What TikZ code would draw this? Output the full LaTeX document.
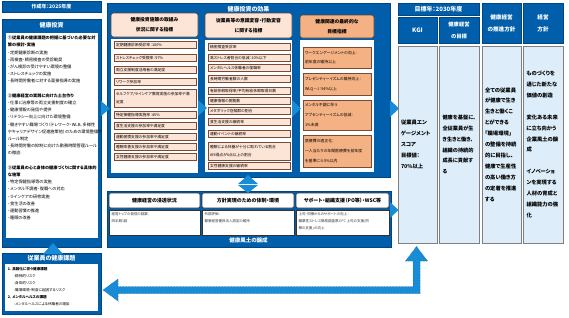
\documentclass[tikz,border=0pt]{standalone}
\usepackage{fontspec}
\setmainfont{Noto Sans CJK JP}[RawFeature=+palt]
\newcommand\fsz[2]{\fontsize{#1}{#2}\selectfont}
\definecolor{mblue}{RGB}{0,94,170}
\definecolor{ablue}{RGB}{25,140,215}
\definecolor{peach}{RGB}{252,228,214}
\definecolor{orng}{RGB}{244,177,131}
\definecolor{ltblue}{RGB}{221,238,250}
\definecolor{hdrline}{RGB}{90,70,60}
\definecolor{itemline}{RGB}{120,75,55}
\definecolor{colline}{RGB}{128,128,128}
\newcommand\mkbox[7][]{%
  \pgfmathsetmacro\mkW{#5-#3}%
  \pgfmathsetmacro\mkH{#6-#4}%
  \node[anchor=north west,minimum width=\mkW pt,minimum height=\mkH pt,#1] (#2) at (#3,#4) {#7};}
\newcommand\mkitem[7][]{%
  \pgfmathsetmacro\mkH{#6-#4}%
  \pgfmathsetmacro\mkT{#5-#3-4}%
  \node[anchor=north west,minimum height=\mkH pt,text width=\mkT pt,inner xsep=2pt,inner ysep=0pt,align=left,#1] (#2) at (#3,#4) {#7};}
\tikzset{
 bluebg/.style={fill=mblue, draw=mblue!75!black, line width=0.6pt},
 bluehead/.style={fill=mblue, draw=mblue!75!black, line width=0.6pt, text=white, font=\bfseries\fsz{6}{12}, align=center},
 titletxt/.style={text=white, font=\bfseries\fsz{6}{7}},
 whitebg/.style={fill=white},
 phead/.style={fill=peach, draw=hdrline, line width=0.6pt, rounded corners=2.5pt, font=\bfseries\fsz{4.8}{10}, align=center},
 ohead/.style={phead, fill=orng},
 pitem/.style={fill=peach, draw=itemline, line width=0.4pt, font=\fsz{3.8}{8.5}},
 oitem/.style={fill=orng, draw=itemline, line width=0.5pt, font=\fsz{3.9}{9.6}},
 chead/.style={fill=white, draw=black!80, line width=0.6pt, rounded corners=2pt, font=\bfseries\fsz{5}{6}},
 cbody/.style={fill=white, draw=black!80, line width=0.5pt},
 ctext/.style={anchor=north west, align=left, text=black!80, font=\fsz{3.5}{6.8}},
 ltcol/.style={fill=ltblue, draw=colline, line width=0.8pt},
 coltxt/.style={anchor=west, align=left, font=\bfseries\fsz{5.3}{10.9}},
 tri/.style={fill=ablue},
}
\begin{document}
\begin{tikzpicture}[x=1pt,y=-1pt,every node/.style={inner sep=0pt,outer sep=0pt}]
\useasboundingbox[fill=white] (0,0) rectangle (569,317);

% ---------- left column ----------
\mkbox[bluehead,font=\bfseries\fsz{5}{6}]{yr1}{2}{1}{101}{12}{作成年：2025年度}
\mkbox[bluebg]{inv}{2}{19}{101}{247}{}
\node[titletxt] (invt) at (51.5,25.5) {健康投資};
\mkbox[whitebg]{invin}{6}{33}{98}{238}{}
\node[anchor=north west,align=left,font=\fsz{4.2}{7.2}] (invtxt) at (8,36) {%
\textbf{①従業員の健康課題の把握に基づいた必要な対}\\
\textbf{策の検討・実施}\\
・定期健康診断の実施\\
・再検査・精密検査の受診勧奨\\
・がん検診の受けやすい環境の整備\\
・ストレスチェックの実施\\
・長時間労働者に対する面接指導の実施\\[7.2pt]
\textbf{②健康経営の実践に向けた土台作り}\\
・仕事と治療等の両立支援制度の確立\\
・健康情報の発信や提供\\
・リテラシー向上に向けた環境整備\\
・働きやすい職場づくり（テレワーク・WLB、多様性\\
やキャリアデザイン促進施策他）のための環境整備や\\
ルール制定\\
・長時間労働の抑制に向けた勤務時間管理ルール\\
の徹底\\[7.2pt]
\textbf{③従業員の心と身体の健康づくりに関する具体的}\\
\textbf{な施策}\\
・特定保健指導等の実施\\
・メンタル不調者・復職への対応\\
・ラインケアの研修実施\\
・食生活の改善\\
・運動習慣の推進\\
・睡眠の改善};

\mkbox[bluebg]{iss}{2}{253}{101}{314}{}
\node[titletxt] (isst) at (51.5,258.5) {従業員の健康課題};
\mkbox[whitebg]{issin}{5}{264}{98}{311}{}
\node[anchor=north west,align=left,font=\fsz{3.6}{7.1}] (isstxt) at (8,267.3) {%
\textbf{1.\ 高齢化に伴う健康課題}\\
\hspace{6pt}-精神的リスク\\
\hspace{6pt}-身体的リスク\\
\hspace{6pt}-職場環境・制度に起因するリスク\\
\textbf{2.\ メンタルヘルスの課題}\\
\hspace{6pt}-メンタルヘルスによる休職者の増加};
\fill[tri] (43,254) -- (63,254) -- (53,243) -- cycle;

% ---------- middle : effects ----------
\mkbox[bluebg]{eff}{107}{3}{390}{177}{}
\node[titletxt] (efft) at (248.5,9) {健康投資の効果};

\mkbox[phead]{h1}{111}{13}{198}{37}{健康投資施策の取組み\\状況に関する指標}
\mkbox[phead]{h2}{205}{13}{292}{38}{従業員等の意識変容・行動変容\\に関する指標}
\mkbox[ohead]{h3}{300}{15}{374}{38}{健康関連の最終的な\\目標指標}
\mkbox[whitebg]{w1}{111}{39}{198}{173}{}
\mkbox[whitebg]{w2}{205}{40}{292}{172}{}
\mkbox[whitebg]{w3}{300}{40}{374}{172}{}

\mkitem[pitem]{a1}{114}{41.5}{196}{48.5}{定期健康診断受診率：100\%}
\mkitem[pitem]{a2}{114}{54.5}{196}{61.5}{ストレスチェック受検率：97\%}
\mkitem[pitem]{a3}{114}{66.5}{196}{73.5}{両立支援制度活用者の満足度}
\mkitem[pitem]{a4}{114}{78.5}{196}{85.5}{リワーク参加率}
\mkitem[pitem]{a5}{114}{89.5}{196}{107}{セルフケア/ラインケア教育実施の参加率や満\\足度}
\mkitem[pitem]{a6}{114}{111.5}{196}{118.5}{特定保健指導実施率：45\%}
\mkitem[pitem]{a7}{114}{122.5}{196}{129.5}{食生活支援の参加率や満足度}
\mkitem[pitem]{a8}{114}{133.5}{196}{140.5}{運動習慣支援の参加率や満足度}
\mkitem[pitem]{a9}{114}{143.5}{196}{150.5}{睡眠改善支援の参加率や満足度}
\mkitem[pitem]{a10}{114}{153.5}{196}{160.5}{女性健康支援の参加率や満足度}

\mkitem[pitem]{b1}{208}{43.5}{290}{50.5}{精密検査受診率}
\mkitem[pitem]{b2}{208}{54.5}{290}{61.5}{高ストレス者割合の低減：10\%以下}
\mkitem[pitem]{b3}{208}{64.5}{290}{71.5}{メンタルヘルス休職者の復職率}
\mkitem[pitem]{b4}{208}{75.5}{290}{82.5}{長時間労働者数の人数}
\mkitem[pitem]{b5}{208}{87.5}{290}{94.5}{有給休暇取得率/平均有給休暇取得日数}
\mkitem[pitem]{b6}{208}{97.5}{290}{104.5}{健康情報の閲覧数}
\mkitem[pitem]{b7}{208}{107.5}{290}{114.5}{メタボリック症候群の割合}
\mkitem[pitem]{b8}{208}{118.5}{290}{125.5}{食生活支援の継続率}
\mkitem[pitem]{b9}{208}{130.5}{290}{137.5}{運動イベントの継続率}
\mkitem[pitem]{b10}{208}{142}{290}{160}{睡眠による休養が十分に取れている割合\\AIS得点が6点以上の割合}
\mkitem[pitem]{b11}{208}{162.5}{290}{169.5}{女性健康支援の継続率}

\mkitem[oitem]{c1}{303}{47}{371}{68}{ワークエンゲージメントの向上：\\前年度の維持以上}
\mkitem[oitem]{c2}{303}{73}{371}{95}{プレゼンティーイズムの維持向上：\\WLQ－J：94\%以上}
\mkitem[oitem]{c3}{303}{100}{371}{130}{メンタル不調に伴う\\アブセンティーイズムの低減：\\1\%未満}
\mkitem[oitem]{c4}{303}{135}{371}{167}{医療費の適正化：\\一人当たりの年間医療費を前年度\\を基準に±5\%以内}

\fill[tri] (101,101) -- (110,108.5) -- (101,116) -- cycle;
\fill[tri] (198,100) -- (207,108) -- (198,116) -- cycle;
\fill[tri] (292,100) -- (301,108.5) -- (292,117) -- cycle;
\fill[tri] (390,100) -- (399,108.5) -- (390,117) -- cycle;

% ---------- middle : culture ----------
\mkbox[bluebg]{cul}{107}{191}{391}{247}{}
\mkbox[chead]{k1}{109}{193}{200}{208}{健康経営の浸透状況}
\mkbox[chead]{k2}{202}{193}{294}{208}{方針実現のための体制・環境}
\mkbox[chead]{k3}{296}{193}{389}{208}{サポート・組織支援（PO等）・WSC等}
\mkbox[cbody]{m1}{109}{210}{200}{235}{}
\mkbox[cbody]{m2}{202}{210}{294}{235}{}
\mkbox[cbody]{m3}{296}{210}{389}{235}{}
\node[ctext] (m1t) at (111.5,212.5) {経営トップの発信の回数：\\四半期1回};
\node[ctext] (m2t) at (204.5,212.5) {外部評価：\\健康経営優良法人認定の維持};
\node[ctext] (m3t) at (298.5,212.5) {上司・同僚からのサポートの向上：\\職業性ストレス簡易調査票の「C 上司の支援/同\\僚の支援」の向上};
\node[text=white,font=\bfseries\fsz{5.5}{6}] (cult) at (248.5,240.5) {健康風土の醸成};
\fill[tri] (390,202) -- (398.5,210) -- (390,218) -- cycle;
\fill[tri] (238,184) -- (248,175) -- (258,184) -- cycle;
\fill[tri] (238,185) -- (248,193) -- (258,185) -- cycle;

% ---------- right side ----------
\mkbox[bluehead]{yr2}{398}{3}{479}{15}{目標年：2030年度}
\mkbox[bluehead]{kgih}{398}{17}{437}{43}{KGI}
\mkbox[bluehead,font=\bfseries\fsz{5.3}{12}]{goalh}{439}{17}{479}{43}{健康経営\\の目標}
\mkbox[bluehead,font=\bfseries\fsz{5.6}{12}]{polh}{482}{3}{521}{43}{健康経営\\の推進方針}
\mkbox[bluehead,font=\bfseries\fsz{5.6}{12}]{mgth}{523}{3}{563}{43}{経営\\方針}
\mkbox[ltcol]{kgic}{398}{46}{437}{243}{}
\mkbox[ltcol]{goalc}{439}{46}{479}{243}{}
\mkbox[ltcol]{polc}{482}{46}{521}{243}{}
\mkbox[ltcol]{mgtc}{523}{46}{563}{243}{}
\node[coltxt] (kgit) at (401,144.5) {従業員エン\\ゲージメント\\スコア\\目標値：\\70\%以上};
\node[coltxt,font=\bfseries\fsz{5.2}{10.9}] (goalt) at (442.5,144.5) {健康を基盤に、\\全従業員が生\\き生きと働き、\\組織の持続的\\成長に貢献す\\る};
\node[coltxt] (polt) at (485,144.5) {全ての従業員\\が健康で生き\\生きと働くこ\\とができる\\「職場環境」\\の整備を持続\\的に目指し、\\健康で生産性\\の高い働き方\\の定着を推進\\する};
\node[coltxt] (mgtt) at (526.5,144.5) {ものづくりを\\通じた新たな\\価値の創造\\[10.9pt]変化ある未来\\に立ち向かう\\企業風土の醸\\成\\[10.9pt]イノベーショ\\ンを実現する\\人材の育成と\\組織能力の強\\化};

% ---------- big feedback arrow ----------
\filldraw[fill=ablue,draw=ablue!70!black,densely dotted,line width=0.5pt]
 (103,290) -- (118,279) -- (118,286.5) -- (413,286.5) -- (413,261) -- (405.5,261)
 -- (416.5,246.5) -- (427.5,261) -- (420,261) -- (420,293.5) -- (118,293.5) -- (118,301) -- cycle;
\end{tikzpicture}
\end{document}
